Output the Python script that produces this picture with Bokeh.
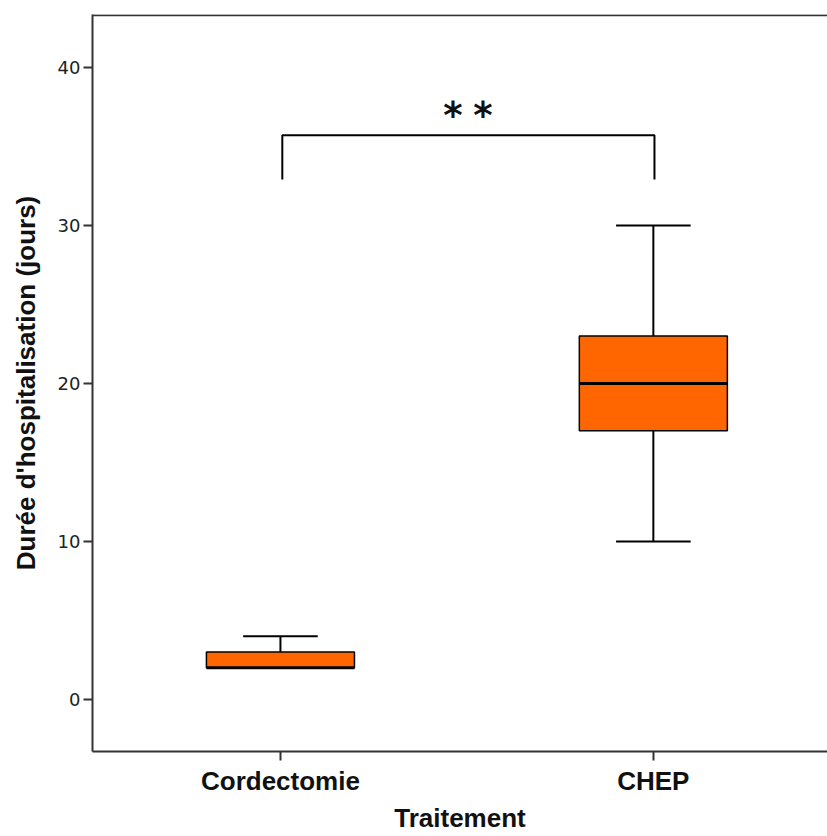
from bokeh.plotting import figure
from bokeh.models import FixedTicker, Range1d, ColumnDataSource, Span, Label
from bokeh.core.properties import value
from bokeh.embed import file_html
from bokeh.resources import INLINE

categories = ["Cordectomie", "CHEP"]
xpos = [1, 2]
lower = [2, 10]
q1 = [2, 17]
median = [2, 20]
q3 = [3, 23]
upper = [4, 30]
y_ticks = [0, 10, 20, 30, 40]
signif_stars = ["*", "*"]
bracket_top = 35.7
bracket_bottom = 32.9
x_title = "Traitement"
y_title = "Durée d'hospitalisation (jours)"

p = figure(width=827, height=836, output_backend="svg", toolbar_location=None,
           x_range=Range1d(0.496, 2.467), y_range=Range1d(-3.3, 43.35),
           min_border_left=92, min_border_right=0, min_border_top=14, min_border_bottom=85)
p.xgrid.visible = False
p.ygrid.visible = False
p.outline_line_color = None
p.background_fill_color = "white"
p.border_fill_color = "white"

# top frame line only (no right border in the reference)
p.add_layout(Span(location=43.3, dimension="width", line_color="#333333", line_width=2))

box_w = 0.397
cap_w = 0.2
src = ColumnDataSource(dict(x=xpos, lower=lower, q1=q1, median=median, q3=q3, upper=upper,
                            left=[v - box_w / 2 for v in xpos], right=[v + box_w / 2 for v in xpos],
                            cl=[v - cap_w / 2 for v in xpos], cr=[v + cap_w / 2 for v in xpos]))

p.segment(x0="x", y0="q3", x1="x", y1="upper", source=src, line_color="black", line_width=2)
p.segment(x0="x", y0="q1", x1="x", y1="lower", source=src, line_color="black", line_width=2)
p.segment(x0="cl", y0="upper", x1="cr", y1="upper", source=src, line_color="black", line_width=2)
p.segment(x0="cl", y0="lower", x1="cr", y1="lower", source=src, line_color="black", line_width=2)
p.quad(left="left", right="right", bottom="q1", top="q3", source=src,
       fill_color="#FF6600", line_color="black", line_width=1.5)
p.segment(x0="left", y0="median", x1="right", y1="median", source=src, line_color="black", line_width=3)

# significance bracket
p.line(x=[xpos[0] + 0.005, xpos[0] + 0.005, xpos[1] + 0.003, xpos[1] + 0.003],
       y=[bracket_bottom, bracket_top, bracket_top, bracket_bottom], line_color="black", line_width=2)
mid = (xpos[0] + xpos[1]) / 2
for star, off in zip(signif_stars, [-14, 16]):
    p.add_layout(Label(x=mid, y=bracket_top, text=star, x_offset=off, y_offset=-2,
                       text_align="center", text_baseline="bottom",
                       text_font="DejaVu Sans", text_font_style="bold",
                       text_font_size="37px", text_color="#111111"))

p.xaxis.ticker = FixedTicker(ticks=xpos)
p.xaxis.major_label_overrides = {1: categories[0], 2: categories[1]}
p.xaxis.axis_label = x_title
p.xaxis.minor_tick_line_color = None
p.xaxis.major_tick_in = 0
p.xaxis.major_tick_out = 9
p.xaxis.major_tick_line_width = 2
p.xaxis.major_tick_line_color = "#333333"
p.xaxis.axis_line_width = 2
p.xaxis.axis_line_color = "#333333"
p.xaxis.major_label_text_font = "Liberation Sans"
p.xaxis.major_label_text_font_style = "bold"
p.xaxis.major_label_text_font_size = "26px"
p.xaxis.major_label_text_color = "#111111"
p.xaxis.major_label_standoff = 5
p.xaxis.axis_label_text_font = "Liberation Sans"
p.xaxis.axis_label_text_font_style = "bold"
p.xaxis.axis_label_text_font_size = "26px"
p.xaxis.axis_label_text_color = "#111111"
p.xaxis.axis_label_standoff = 4

p.yaxis.ticker = FixedTicker(ticks=y_ticks)
p.yaxis.axis_label = y_title
p.yaxis.minor_tick_line_color = None
p.yaxis.major_tick_in = 0
p.yaxis.major_tick_out = 9
p.yaxis.major_tick_line_width = 2
p.yaxis.major_tick_line_color = "#333333"
p.yaxis.axis_line_width = 2
p.yaxis.axis_line_color = "#333333"
p.yaxis.major_label_text_font = "DejaVu Sans"
p.yaxis.major_label_text_font_size = "18px"
p.yaxis.major_label_text_color = "#222222"
p.yaxis.major_label_standoff = 3
p.yaxis.axis_label_text_font = "Liberation Sans"
p.yaxis.axis_label_text_font_style = "bold"
p.yaxis.axis_label_text_font_size = "26px"
p.yaxis.axis_label_text_color = "#111111"
p.yaxis.axis_label_standoff = 14

open("out.html", "w").write(file_html(p, INLINE))
